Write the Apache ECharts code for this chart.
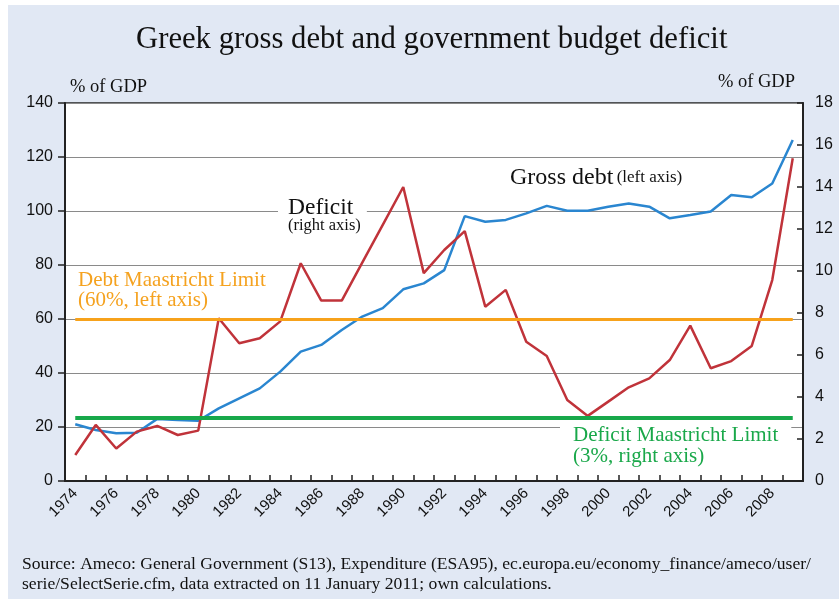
<!DOCTYPE html>
<html>
<head>
<meta charset="utf-8">
<script src="https://cdn.jsdelivr.net/npm/echarts@6/dist/echarts.min.js"></script>
<style>
html,body{margin:0;padding:0;background:#fff;}
#c{width:839px;height:599px;background:linear-gradient(#e1e8f4,#e1e8f4) 8px 5px / calc(100% - 8px) calc(100% - 5px) no-repeat,#fff;}
</style>
</head>
<body>
<div id="c"></div>
<script>
const years = ['1974','1975','1976','1977','1978','1979','1980','1981','1982','1983','1984','1985','1986','1987','1988','1989','1990','1991','1992','1993','1994','1995','1996','1997','1998','1999','2000','2001','2002','2003','2004','2005','2006','2007','2008','2009'];
const grossDebt = [21.0,18.9,17.7,17.9,23.0,22.6,22.3,26.9,30.6,34.3,40.5,47.9,50.4,55.9,60.9,64.0,71.0,73.2,78.1,98.1,96.0,96.7,99.1,101.9,100.1,100.1,101.6,102.8,101.6,97.3,98.5,99.8,105.9,105.1,110.2,126.3];
const deficit = [1.24,2.67,1.55,2.35,2.62,2.19,2.40,7.75,6.56,6.80,7.60,10.37,8.59,8.59,10.4,12.2,14.0,9.9,11.0,11.9,8.3,9.1,6.63,5.95,3.86,3.10,3.78,4.46,4.89,5.76,7.40,5.37,5.71,6.43,9.57,15.37];
const debtLimit = 60;
const deficitLimit = 3;
const leftTicks = [0,20,40,60,80,100,120,140];
const rightTicks = [0,2,4,6,8,10,12,14,16,18];

const serif = '"Liberation Serif","DejaVu Serif",serif';
const sans = '"Liberation Sans",Arial,sans-serif';
const last = years.length - 1;

const chart = echarts.init(document.getElementById('c'), null, {renderer:'canvas'});
chart.setOption({
  backgroundColor: 'transparent',
  animation: false,
  grid: {left:65, right:36, top:103, bottom:118, show:true, backgroundColor:'#fff', borderColor:'#222', borderWidth:1.5},
  xAxis: {
    type:'category', data: years, boundaryGap:true,
    axisLine:{show:true, lineStyle:{color:'#222', width:2}},
    axisTick:{show:true, inside:true, length:6, interval:0, lineStyle:{color:'#222', width:1.5}},
    axisLabel:{interval:1, rotate:45, fontFamily:sans, fontSize:15, color:'#111', margin:10}
  },
  yAxis: [
    {type:'value', min:leftTicks[0], max:leftTicks[leftTicks.length-1], interval:20, position:'left',
     axisLine:{show:true, lineStyle:{color:'#222', width:2}},
     axisTick:{show:true, inside:false, length:7, lineStyle:{color:'#222', width:1.5}},
     axisLabel:{fontFamily:sans, fontSize:16, color:'#111', margin:12},
     splitLine:{show:true, lineStyle:{color:'#8a8a8a', width:1.2}}},
    {type:'value', min:rightTicks[0], max:rightTicks[rightTicks.length-1], interval:2, position:'right',
     axisLine:{show:true, lineStyle:{color:'#222', width:2}},
     axisTick:{show:true, inside:true, length:6, lineStyle:{color:'#222', width:1.5}},
     axisLabel:{fontFamily:sans, fontSize:16, color:'#111', margin:12},
     splitLine:{show:false}}
  ],
  series: [
    {name:'Gross debt', type:'line', yAxisIndex:0, data:grossDebt, symbol:'none', z:3,
     lineStyle:{color:'#2a86d0', width:2.5},
     markLine:{silent:true, symbol:['none','none'], label:{show:false}, lineStyle:{color:'#f7a21b', width:3, type:'solid'},
       data:[[{coord:[0, debtLimit]},{coord:[last, debtLimit]}]]}},
    {name:'Deficit', type:'line', yAxisIndex:1, data:deficit, symbol:'none', z:4,
     lineStyle:{color:'#c0333a', width:2.5},
     markLine:{silent:true, symbol:['none','none'], label:{show:false}, lineStyle:{color:'#17a84a', width:4, type:'solid'},
       data:[[{coord:[0, deficitLimit]},{coord:[last, deficitLimit]}]]}}
  ],
  graphic: [
    {type:'text', left:136, top:24, style:{text:'Greek gross debt and government budget deficit', font:'30.7px '+serif, fill:'#111'}},
    {type:'text', left:70, top:78, style:{text:'% of GDP', font:'18.5px '+serif, fill:'#111'}},
    {type:'text', right:44, top:73, style:{text:'% of GDP', font:'18.5px '+serif, fill:'#111'}},
    {type:'text', left:78, top:270, z:1, style:{text:'Debt Maastricht Limit\n(60%, left axis)', font:'21px '+serif, fill:'#f5a21f', lineHeight:20}},
    {type:'text', left:278, top:195, z:1, style:{rich:{a:{font:'23.5px '+serif, fill:'#111', lineHeight:21}, b:{font:'16.5px '+serif, fill:'#111', lineHeight:15}}, text:'{a|Deficit}\n{b|(right axis)}', backgroundColor:'#fff', padding:[2,6,2,10]}},
    {type:'text', left:510, top:166, z:1, style:{rich:{a:{font:'24px '+serif, fill:'#111'}, b:{font:'17px '+serif, fill:'#111'}}, text:'{a|Gross debt} {b|(left axis)}'}},
    {type:'text', left:560, top:424, z:1, style:{text:'Deficit Maastricht Limit\n(3%, right axis)', font:'21px '+serif, fill:'#1aa84a', lineHeight:21, backgroundColor:'#fff', padding:[1,13,2,13]}},
    {type:'text', left:22, top:554, style:{text:'Source: Ameco: General Government (S13), Expenditure (ESA95), ec.europa.eu/economy_finance/ameco/user/\nserie/SelectSerie.cfm, data extracted on 11 January 2011; own calculations.', font:'17.6px '+serif, fill:'#111', lineHeight:20}}
  ]
});
</script>
</body>
</html>
